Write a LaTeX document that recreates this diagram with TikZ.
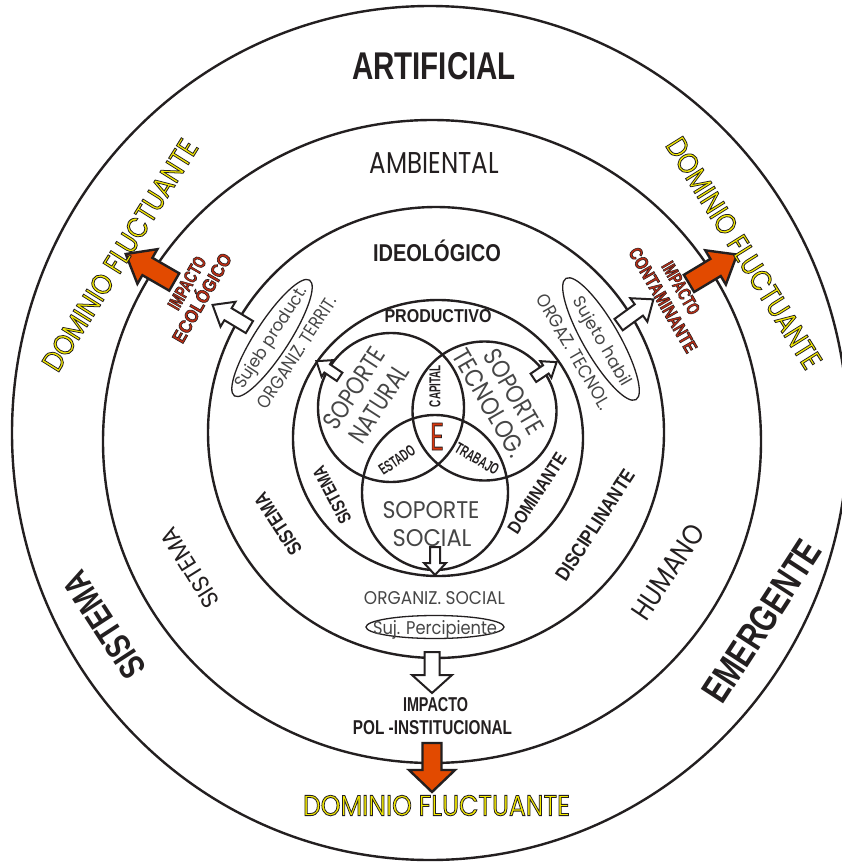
\documentclass[tikz,border=0pt]{standalone}
\usepackage{fontspec}
\setmainfont{Liberation Sans}
\newfontfamily\geo{Poppins}
\usepackage{graphicx}
\definecolor{ink}{RGB}{35,31,32}
\definecolor{redarr}{RGB}{226,74,0}
\definecolor{impred}{RGB}{190,45,20}
\definecolor{yel}{RGB}{245,235,0}
\definecolor{soft}{RGB}{70,70,70}
\definecolor{ered}{RGB}{215,55,15}
% outlined text: fill colour #1, black stroke of width #2
\newcommand\outl[3]{{\color{#1}\special{pdf:literal direct 2 Tr #2 w 0.137 0.122 0.125 RG}#3}}
\newcommand\fitb[3]{\resizebox{#1pt}{#2pt}{\fontsize{20}{24}\selectfont\bfseries #3}}
\newcommand\fitr[3]{\resizebox{#1pt}{#2pt}{\fontsize{20}{24}\selectfont #3}}
\newcommand\fitg[3]{\resizebox{#1pt}{#2pt}{\fontsize{20}{24}\selectfont\geo #3}}
\newcommand\redlab[3]{\resizebox{#1pt}{#2pt}{\fontsize{18}{20}\selectfont\bfseries\outl{impred}{0.6}{#3}}}
\newcommand\domlab{\resizebox{267pt}{20.5pt}{\fontsize{29}{32}\selectfont\geo\outl{yel}{0.85}{DOMINIO FLUCTUANTE}}}
\newcommand\blockarrow[8]{\draw[#1,shift={(#2,#3)},rotate=#4] (-#5/2,#6/2) -- ({#5/2-#8},#6/2) -- ({#5/2-#8},#7/2) -- (#5/2,0) -- ({#5/2-#8},-#7/2) -- ({#5/2-#8},-#6/2) -- (-#5/2,-#6/2) -- cycle;}
\tikzset{
  ring/.style={draw=ink, line width=2.4pt},
  oval/.style={draw=ink, line width=1.3pt},
  lab/.style={inner sep=0pt, outer sep=0pt, text=ink},
  softlab/.style={inner sep=0pt, outer sep=0pt, text=soft},
  warrow/.style={draw=ink, line width=2pt, fill=white, line join=miter},
  rarrow/.style={draw=ink, line width=2.4pt, fill=redarr, line join=miter},
}
\begin{document}
\begin{tikzpicture}[x=1pt,y=-1pt]
\useasboundingbox (0,0) rectangle (842,862);
\fill[white] (0,0) rectangle (842,862);
% rings
\draw[ring] (430,433) ellipse [x radius=418, y radius=427];
\draw[ring] (432,441.5) ellipse [x radius=329, y radius=321.5];
\draw[ring] (436,432.5) ellipse [x radius=228, y radius=225.5];
\draw[ring] (438,438) ellipse [x radius=145, y radius=138];
% venn
\draw[ring] (391,407.5) ellipse [x radius=73, y radius=74.5];
\draw[ring] (484.5,411) ellipse [x radius=72, y radius=69.5];
\draw[ring] (435,492.5) ellipse [x radius=73, y radius=77.5];
% ovals
\draw[oval, rotate around={57:(272,338)}] (272,338) ellipse [x radius=69, y radius=17];
\draw[oval, rotate around={-60:(601,339)}] (601,339) ellipse [x radius=70, y radius=18];
\draw[oval] (435,627) ellipse [x radius=69, y radius=11.5];
% arrows
\blockarrow{rarrow}{150}{268}{150}{56}{20}{40}{25}
\blockarrow{rarrow}{713}{269}{31}{56}{20}{40}{25}
\blockarrow{warrow}{231}{316}{149}{43}{14}{29}{18}
\blockarrow{warrow}{636}{312}{36}{43}{14}{29}{18}
\blockarrow{warrow}{328}{369}{146}{28}{10}{20}{13}
\blockarrow{warrow}{545}{370}{34}{28}{10}{20}{13}
\blockarrow{warrow}{435}{561}{-90}{28}{10}{22}{12}
\blockarrow{warrow}{432}{672.5}{-90}{41}{15}{40}{18}
\blockarrow{rarrow}{432}{767.5}{-90}{49}{19}{46}{22}
% titles
\node[lab] (artificial) at (434,66.5) {\fitb{164}{27}{ARTIFICIAL}};
\node[lab] (ambiental) at (434.5,162.5) {\fitg{129}{21}{AMBIENTAL}};
\node[lab] (ideologico) at (437,253.5) {\fitb{128}{17}{IDEOL\smash{Ó}GICO}};
\node[lab] (productivo) at (438,316.5) {\fitb{107}{13}{PRODUCTIVO}};
% venn labels
\node[lab, rotate=90] (capital) at (435,386) {\fitb{42}{11}{CAPITAL}};
\node[lab, rotate=34] (estado) at (397,460) {\fitb{40}{11}{ESTADO}};
\node[lab, rotate=-30] (trabajo) at (477,459) {\fitb{48}{11}{TRABAJO}};
\node[lab] (e) at (437,436.5) {\resizebox{14pt}{27pt}{\fontsize{38}{40}\selectfont\geo\outl{ered}{0.8}{E}}};
\node[softlab, rotate=57] (sopnat1) at (354,388) {\fitg{92}{18}{SOPORTE}};
\node[softlab, rotate=57] (sopnat2) at (379,404) {\fitg{88}{18}{NATURAL}};
\node[softlab, rotate=-60] (sopte1) at (514,392) {\fitg{94}{18}{SOPORTE}};
\node[softlab, rotate=-60] (sopte2) at (489,403) {\fitg{120}{18}{TECNOLOG.}};
\node[softlab] (sopsoc1) at (431,510) {\fitg{97}{17}{SOPORTE}};
\node[softlab] (sopsoc2) at (432,538.5) {\fitg{79}{17}{SOCIAL}};
% ring labels
\node[lab, rotate=118] (sistema4) at (332,495) {\fitb{62}{13}{SISTEMA}};
\node[lab, rotate=57] (dominante) at (537,493) {\fitb{92}{13}{DOMINANTE}};
\node[lab, rotate=123] (sistema3) at (278,524) {\fitb{70}{14}{SISTEMA}};
\node[lab, rotate=57] (disciplinante) at (595,525) {\fitb{128}{14}{DISCIPLINANTE}};
\node[lab, rotate=122] (sistema2) at (190,568) {\fitg{90}{17}{SISTEMA}};
\node[lab, rotate=56] (humano) at (668,572) {\fitg{108}{20}{HUMANO}};
\node[lab, rotate=123] (sistema1) at (104,625) {\fitb{120}{25}{SISTEMA}};
\node[lab, rotate=57] (emergente) at (762,621) {\fitb{185}{27}{EMERGENTE}};
% oval labels
\node[softlab, rotate=57] (sujprod) at (272,338) {\fitg{118}{13}{Sujeb product.}};
\node[softlab, rotate=57] (orgterr) at (297,352) {\fitg{130}{13}{ORGANIZ. TERRIT.}};
\node[softlab, rotate=-60] (sujhab) at (601,342) {\fitg{100}{13}{Sujeto habil}};
\node[softlab, rotate=-60] (orgtec) at (574,352) {\fitg{130}{13}{ORGAZ. TECNOL.}};
\node[softlab] (orgsoc) at (434.5,598.5) {\fitg{141}{13}{ORGANIZ. SOCIAL}};
\node[softlab, anchor=base] (sujperc) at (435,634) {\fitg{124}{14}{Suj. Percipiente}};
% impacts
\node[lab, rotate=60] (impeco1) at (187,283) {\redlab{58}{13}{IMPACTO}};
\node[lab, rotate=60] (impeco2) at (202,298) {\redlab{100}{13}{ECOL\smash{Ó}GICO}};
\node[lab, rotate=-60] (impcon1) at (681,288) {\redlab{58}{13}{IMPACTO}};
\node[lab, rotate=-60] (impcon2) at (663,300) {\redlab{118}{13}{CONTAMINANTE}};
\node[lab] (imppol1) at (435.5,705) {\fitb{65}{14}{IMPACTO}};
\node[lab] (imppol2) at (432.5,728) {\fitb{159}{14}{POL -INSTITUCIONAL}};
% domains
\node[lab] (dombot) at (436.5,805.5) {\domlab};
\node[lab, rotate=58] (domleft) at (120,255) {\domlab};
\node[lab, rotate=-58] (domright) at (744,253) {\domlab};
\end{tikzpicture}
\end{document}
